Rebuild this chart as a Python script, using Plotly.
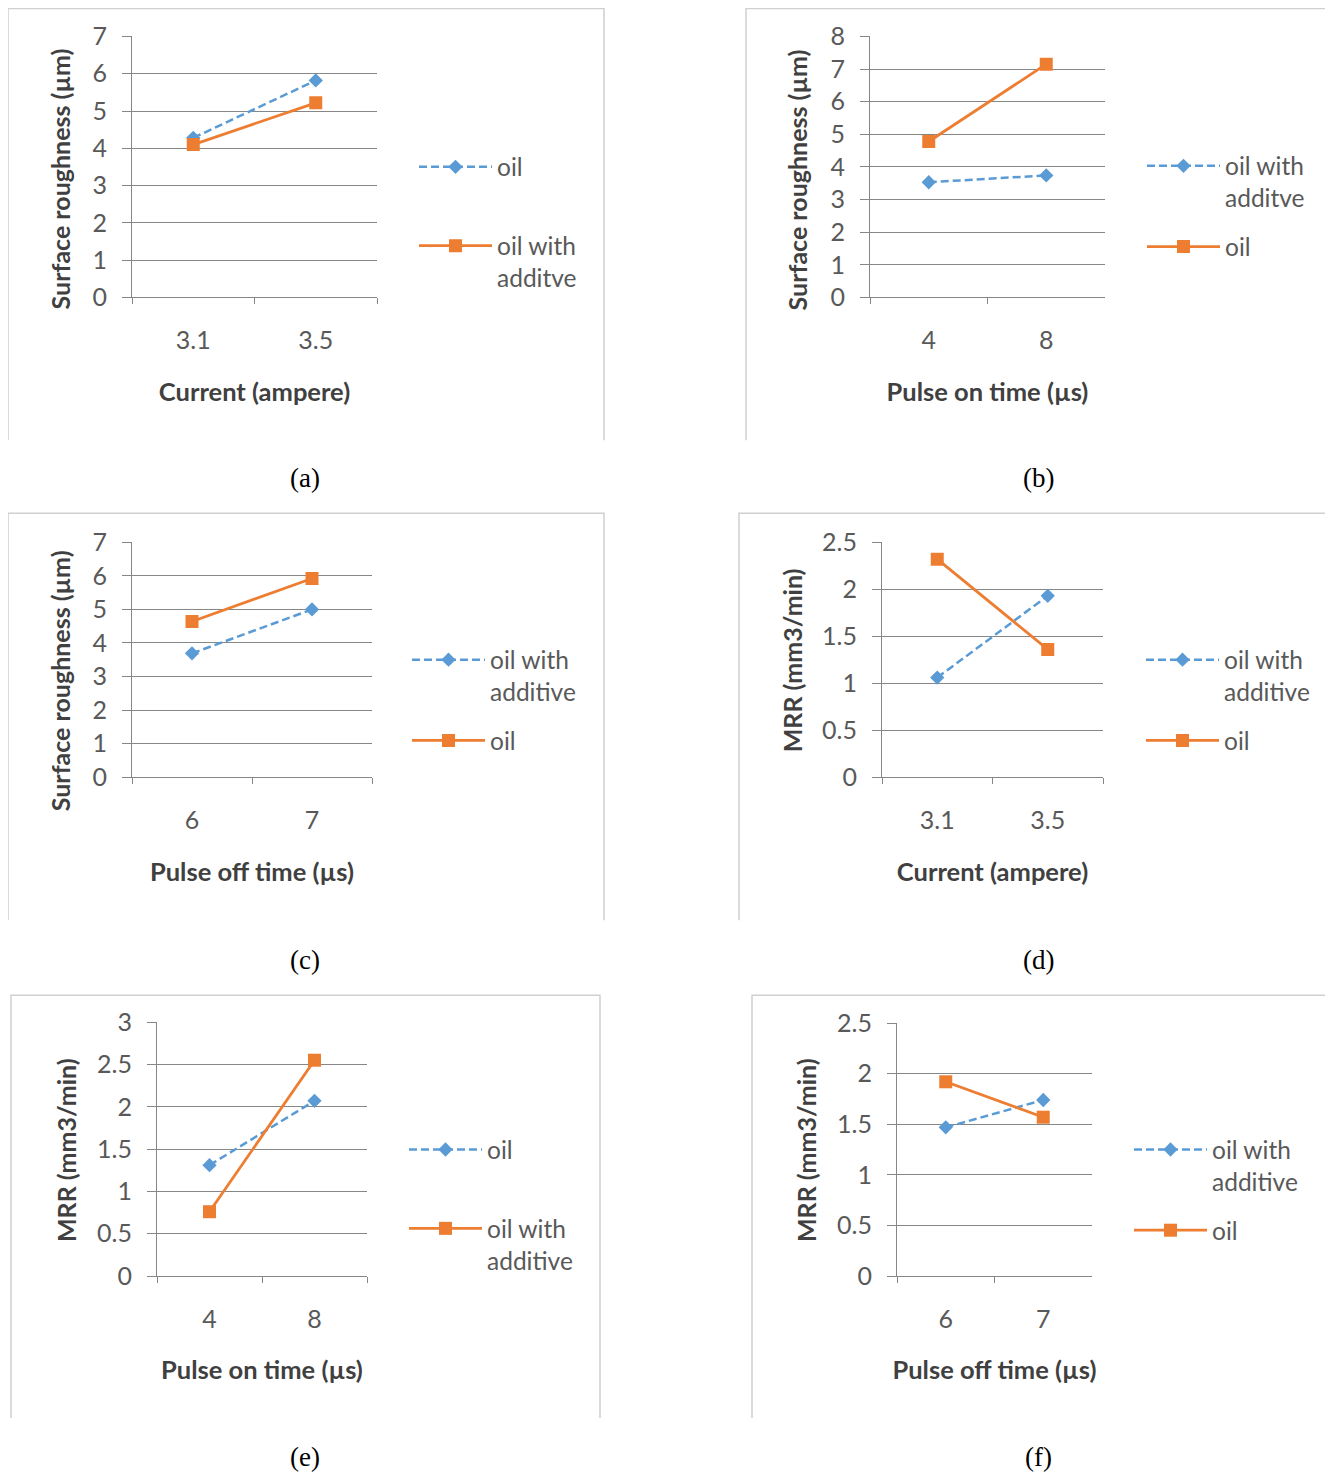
import plotly.graph_objects as go

# ---------------- data ----------------
a_x = ["3.1", "3.5"]
a_oil = [4.28, 5.82]
a_additive = [4.10, 5.22]

b_x = ["4", "8"]
b_additive = [3.53, 3.74]
b_oil = [4.78, 7.15]

c_x = ["6", "7"]
c_additive = [3.69, 5.00]
c_oil = [4.64, 5.92]

d_x = ["3.1", "3.5"]
d_additive = [1.06, 1.93]
d_oil = [2.32, 1.36]

e_x = ["4", "8"]
e_oil = [1.31, 2.07]
e_additive = [0.76, 2.55]

f_x = ["6", "7"]
f_additive = [1.47, 1.74]
f_oil = [1.92, 1.57]

# ---------------- styling / layout ----------------
# page offsets (body margin etc.) and vertical capture scale
OX, OY, SY = 8, 24, 0.98
W, H = 1333 - 8, 1474
BLUE = "#5B9BD5"
ORANGE = "#ED7D31"
FONT = "Lato"
TICKC = "#595959"
TITLEC = "#404040"
GRID = "#878787"

SR = "Surface roughness (µm)"
MRR = "MRR (mm3/min)"

panels = [
    dict(cap="(a)", cats=a_x, blue=("oil", a_oil), orange=("oil with<br>additve", a_additive),
         ymax=7, dtick=1, xt="Current (ampere)", yt=SR, ytxy=(60, 179), gap=44,
         box=(8, 8, 604, 440), plot=(132, 36, 377, 297), leg=(414, 144), capxy=(305, 478)),
    dict(cap="(b)", cats=b_x, blue=("oil with<br>additve", b_additive), orange=("oil", b_oil),
         ymax=8, dtick=1, xt="Pulse on time (µs)", yt=SR, ytxy=(797, 180), gap=14,
         box=(746, 8, 1330, 440), plot=(870, 36, 1105, 297), leg=(1142, 143), capxy=(1038, 478)),
    dict(cap="(c)", cats=c_x, blue=("oil with<br>additive", c_additive), orange=("oil", c_oil),
         ymax=7, dtick=1, xt="Pulse off time (µs)", yt=SR, ytxy=(60, 681), gap=14,
         box=(8, 513, 604, 920), plot=(132, 542, 372, 777), leg=(407, 637), capxy=(305, 960)),
    dict(cap="(d)", cats=d_x, blue=("oil with<br>additive", d_additive), orange=("oil", d_oil),
         ymax=2.5, dtick=0.5, xt="Current (ampere)", yt=MRR, ytxy=(792, 660), gap=14,
         box=(739, 513, 1340, 920), plot=(882, 542, 1103, 777), leg=(1141, 637), capxy=(1038, 960)),
    dict(cap="(e)", cats=e_x, blue=("oil", e_oil), orange=("oil with<br>additive", e_additive),
         ymax=3, dtick=0.5, xt="Pulse on time (µs)", yt=MRR, ytxy=(66, 1150), gap=44,
         box=(11, 995, 600, 1418), plot=(157, 1022, 367, 1276), leg=(404, 1127), capxy=(305, 1457)),
    dict(cap="(f)", cats=f_x, blue=("oil with<br>additive", f_additive), orange=("oil", f_oil),
         ymax=2.5, dtick=0.5, xt="Pulse off time (µs)", yt=MRR, ytxy=(806, 1150), gap=14,
         box=(752, 995, 1326, 1418), plot=(897, 1023, 1092, 1276), leg=(1129, 1127), capxy=(1038, 1457)),
]


def px(x):
    return (x - OX) / W


def py(y):
    return 1 - (y / SY - OY) / H


fig = go.Figure()
shapes = []
annotations = []
layout = {}

for i, p in enumerate(panels):
    n = i + 1
    xa = "x" if n == 1 else f"x{n}"
    ya = "y" if n == 1 else f"y{n}"
    lg = "legend" if n == 1 else f"legend{n}"
    x0, y0, x1, y1 = p["plot"]

    bname, bvals = p["blue"]
    oname, ovals = p["orange"]
    fig.add_trace(go.Scatter(
        x=p["cats"], y=bvals, name=bname, xaxis=xa, yaxis=ya, legend=lg,
        legendgroup=f"{n}b", mode="lines+markers",
        line=dict(color=BLUE, width=2.5, dash="8px,4px"),
        marker=dict(symbol="diamond", size=11, color=BLUE),
    ))
    fig.add_trace(go.Scatter(
        x=p["cats"], y=ovals, name=oname, xaxis=xa, yaxis=ya, legend=lg,
        legendgroup=f"{n}o", mode="lines+markers",
        line=dict(color=ORANGE, width=2.8),
        marker=dict(symbol="square", size=13, color=ORANGE),
    ))

    xkey = "xaxis" if n == 1 else f"xaxis{n}"
    ykey = "yaxis" if n == 1 else f"yaxis{n}"
    layout[xkey] = dict(
        domain=[px(x0), px(x1)], anchor=ya, type="category",
        range=[-0.5, 1.5], showgrid=False, zeroline=False,
        showline=True, linecolor=GRID, linewidth=1,
        ticks="outside", tickson="boundaries", ticklen=6, tickcolor=GRID,
        tickfont=dict(family=FONT, size=25, color=TICKC),
        ticklabelstandoff=21,
        title=dict(text=p["xt"], standoff=29,
                   font=dict(family=FONT, size=25.5, color=TITLEC, weight="bold")),
    )
    layout[ykey] = dict(
        domain=[py(y1), py(y0)], anchor=xa,
        range=[0, p["ymax"]], dtick=p["dtick"], tick0=0,
        showgrid=True, gridcolor=GRID, gridwidth=1, zeroline=False,
        showline=True, linecolor=GRID, linewidth=1,
        ticks="outside", ticklen=9, tickcolor=GRID,
        tickfont=dict(family=FONT, size=25, color=TICKC),
        ticklabelstandoff=10,
    )
    lx, ly = p["leg"]
    layout[lg] = dict(
        x=px(lx), y=py(ly), xanchor="left", yanchor="top",
        bgcolor="rgba(0,0,0,0)", borderwidth=0,
        font=dict(family=FONT, size=24.5, color=TICKC),
        traceorder="grouped", tracegroupgap=p["gap"], valign="top",
        itemwidth=73,
    )

    tx, ty = p["ytxy"]
    annotations.append(dict(
        text=p["yt"], x=px(tx), y=py(ty), xref="paper", yref="paper",
        showarrow=False, textangle=-90, xanchor="center", yanchor="middle",
        font=dict(family=FONT, size=25, color=TITLEC, weight="bold"),
    ))

    bx0, by0, bx1, by1 = p["box"]
    shapes.append(dict(
        type="path", xref="paper", yref="paper",
        path=f"M {px(bx0)} {py(by1)} L {px(bx0)} {py(by0)} L {px(bx1)} {py(by0)} L {px(bx1)} {py(by1)}",
        line=dict(color="#D0D0D0", width=1.5),
    ))
    cx, cy = p["capxy"]
    annotations.append(dict(
        text=p["cap"], x=px(cx), y=py(cy), xref="paper", yref="paper",
        showarrow=False, xanchor="center", yanchor="middle",
        font=dict(family="Liberation Serif", size=27, color="black"),
    ))

fig.update_layout(
    width=W, height=H, margin=dict(l=0, r=0, t=0, b=0),
    paper_bgcolor="white", plot_bgcolor="white",
    showlegend=True, shapes=shapes, annotations=annotations,
    **layout,
)

fig.write_html("out.html")
